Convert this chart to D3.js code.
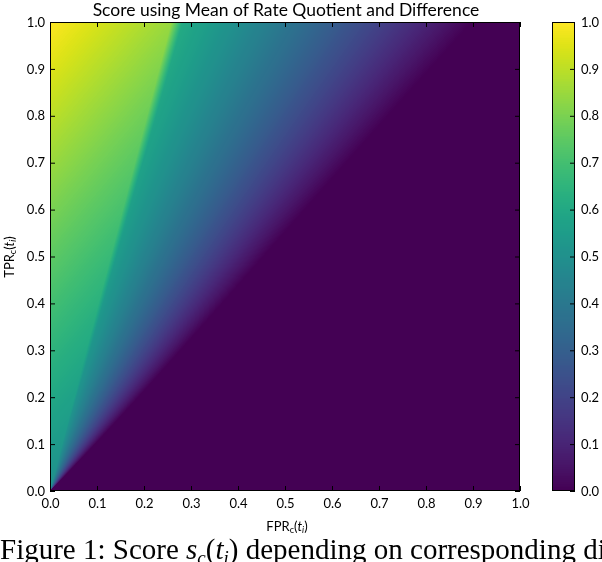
<!DOCTYPE html>
<html><head><meta charset="utf-8">
<script src="https://cdn.jsdelivr.net/npm/d3@7"></script>
<style>
body{margin:0;background:#fff;}
#wrap{position:relative;width:602px;height:562px;overflow:hidden;background:#fff;}
canvas,svg{position:absolute;left:0;top:0;}
</style>
</head><body>
<div id="wrap"><canvas id="cv" width="602" height="562"></canvas><svg id="sv" width="602" height="562"></svg></div>
<script>
// ---- data ----
const fprTicks = [0.0, 0.1, 0.2, 0.3, 0.4, 0.5, 0.6, 0.7, 0.8, 0.9, 1.0];
const tprTicks = [0.0, 0.1, 0.2, 0.3, 0.4, 0.5, 0.6, 0.7, 0.8, 0.9, 1.0];
const colorbarTicks = [0.0, 0.1, 0.2, 0.3, 0.4, 0.5, 0.6, 0.7, 0.8, 0.9, 1.0];
const tickLabels = ["0.0","0.1","0.2","0.3","0.4","0.5","0.6","0.7","0.8","0.9","1.0"];
// score surface, estimated from the colours in the picture
const boundaryRatio = [0.27, 0.012];      // FPR/TPR ratio where the colour jumps, and blur width
const leftRegion = [0.5, 0.5, 0.6];       // score = a + b*TPR - c*FPR left of the jump
const jumpValue = [0.5, 0.12];            // score just right of the jump = a + b*TPR
const zeroRatio = [0.9, 0.08];            // FPR/TPR where the score reaches 0 = a + b*(1-TPR)^3

function score(f, t) {
  if (t <= 0) return 0;
  const r = f / t;
  const left = Math.min(1, leftRegion[0] + leftRegion[1]*t - leftRegion[2]*f);
  const v0 = jumpValue[0] + jumpValue[1]*t;
  const rz = zeroRatio[0] + zeroRatio[1]*Math.pow(1 - t, 3);
  const right = Math.max(0, v0 * (rz - r) / (rz - boundaryRatio[0]));
  let w = (r - (boundaryRatio[0] - boundaryRatio[1])) / (2*boundaryRatio[1]);
  w = Math.max(0, Math.min(1, w));
  return left*(1 - w) + right*w;
}

const L = 50, R = 520, T = 22, B = 491;
const x = d3.scaleLinear().domain([0,1]).range([L,R]);
const y = d3.scaleLinear().domain([0,1]).range([B,T]);
const color = d3.scaleSequential(d3.interpolateViridis).domain([0,1]);

// heatmap pixels
const cv = document.getElementById('cv');
const ctx = cv.getContext('2d');
const W = R - L, H = B - T;
const img = ctx.createImageData(W, H);
for (let py = 0; py < H; py++) {
  const t = y.invert(T + py + 0.5);
  for (let px = 0; px < W; px++) {
    const f = x.invert(L + px + 0.5);
    const c = d3.rgb(color(score(f, t)));
    const k = (py*W + px)*4;
    img.data[k] = c.r; img.data[k+1] = c.g; img.data[k+2] = c.b; img.data[k+3] = 255;
  }
}
ctx.putImageData(img, L, T);

// colorbar
const CL = 552, CR = 575;
const cy = d3.scaleLinear().domain([0,1]).range([B,T]);
for (let py = T; py < B; py++) {
  ctx.fillStyle = color(cy.invert(py + 0.5));
  ctx.fillRect(CL, py, CR - CL, 1);
}

const svg = d3.select('#sv');
const fmt = (d) => tickLabels[Math.round(d*10)];
const tickFont = "Lato, 'Open Sans', sans-serif";

function styleAxis(g) {
  g.select('.domain').remove();
  g.selectAll('line').attr('stroke','#000').attr('stroke-width',1);
  g.selectAll('text').attr('fill','#000').style('font-family', tickFont).style('font-size','13px');
}

svg.append('g').attr('transform',`translate(0,${B})`)
  .call(d3.axisBottom(x).tickValues(fprTicks).tickFormat(fmt).tickSizeInner(-5).tickSizeOuter(0).tickPadding(8))
  .call(styleAxis);
svg.append('g').attr('transform',`translate(0,${T})`)
  .call(d3.axisTop(x).tickValues(fprTicks).tickFormat('').tickSizeInner(-5).tickSizeOuter(0))
  .call(styleAxis);
svg.append('g').attr('transform',`translate(${L},0)`)
  .call(d3.axisLeft(y).tickValues(tprTicks).tickFormat(fmt).tickSizeInner(-5).tickSizeOuter(0).tickPadding(5))
  .call(styleAxis);
svg.append('g').attr('transform',`translate(${R},0)`)
  .call(d3.axisRight(y).tickValues(tprTicks).tickFormat('').tickSizeInner(-5).tickSizeOuter(0))
  .call(styleAxis);

svg.append('rect').attr('x',L+0.5).attr('y',T+0.5).attr('width',W-1).attr('height',H-1)
  .attr('fill','none').attr('stroke','#000').attr('stroke-width',1);

// colorbar axis
svg.append('g').attr('transform',`translate(${CR},0)`)
  .call(d3.axisRight(cy).tickValues(colorbarTicks).tickFormat(fmt).tickSizeInner(-5).tickSizeOuter(0).tickPadding(6))
  .call(styleAxis);
svg.append('rect').attr('x',CL+0.5).attr('y',T+0.5).attr('width',CR-CL-1).attr('height',H-1)
  .attr('fill','none').attr('stroke','#000').attr('stroke-width',1);

// title
svg.append('text').attr('x',(L+R)/2 + 1).attr('y',16).attr('text-anchor','middle')
  .style('font-family',"Lato, 'Open Sans', sans-serif").style('font-size','17.5px').attr('fill','#000')
  .text('Score using Mean of Rate Quotient and Difference');

// axis labels
function rateLabel(sel, main) {
  sel.append('tspan').text(main);
  sel.append('tspan').text('c').attr('baseline-shift','-25%').style('font-size','9px');
  sel.append('tspan').text('(');
  sel.append('tspan').text('t').style('font-style','italic');
  sel.append('tspan').text('i').attr('baseline-shift','-25%').style('font-size','9px').style('font-style','italic');
  sel.append('tspan').text(')');
}
const xl = svg.append('text').attr('x',(L+R)/2 + 2).attr('y',531).attr('text-anchor','middle')
  .style('font-family',tickFont).style('font-size','13px').attr('fill','#000');
rateLabel(xl, 'FPR');
const yl = svg.append('text').attr('transform',`translate(14,257) rotate(-90)`).attr('text-anchor','middle')
  .style('font-family',tickFont).style('font-size','13px').attr('fill','#000');
rateLabel(yl, 'TPR');

// cropped caption from the page below the figure
const cap = svg.append('text').attr('x',0).attr('y',559)
  .style('font-family',"'Liberation Serif', serif").style('font-size','29px').attr('fill','#000');
cap.append('tspan').text('Figure 1: Score ');
cap.append('tspan').text('s').style('font-style','italic');
cap.append('tspan').text('c').attr('baseline-shift','-25%').style('font-size','19px').style('font-style','italic');
cap.append('tspan').text('(');
cap.append('tspan').text('t').style('font-style','italic');
cap.append('tspan').text('i').attr('baseline-shift','-25%').style('font-size','19px').style('font-style','italic');
cap.append('tspan').text(') depending on corresponding di');
</script>
</body></html>
